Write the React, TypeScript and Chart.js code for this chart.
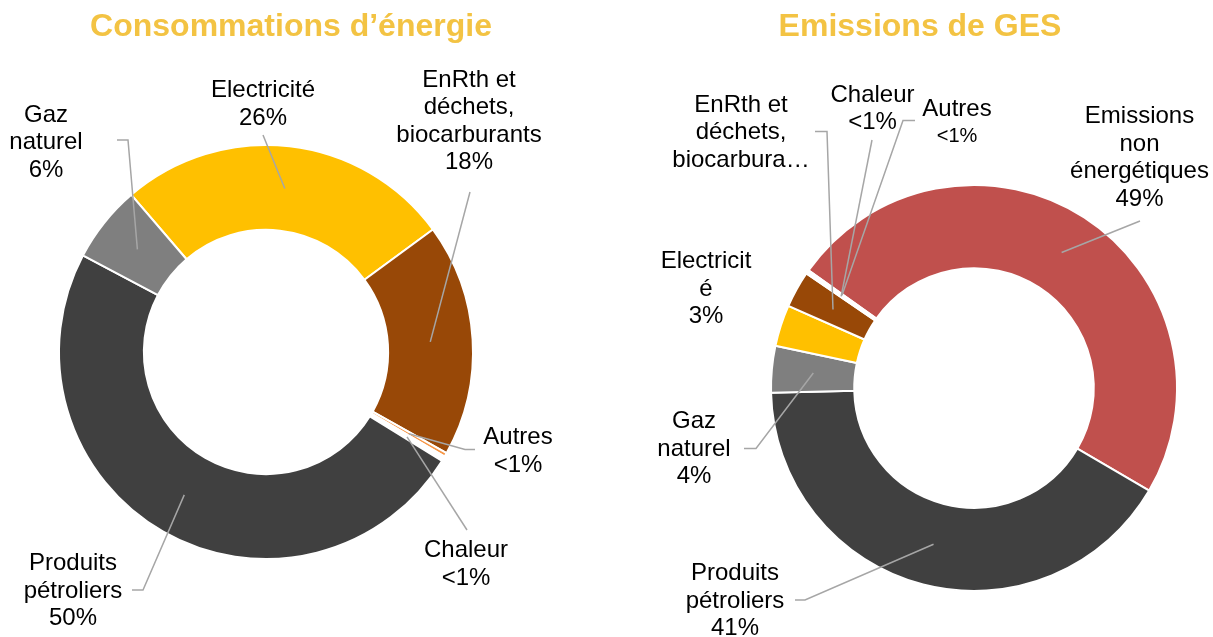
import React, { useEffect, useRef } from "react";
import { Chart, registerables } from "chart.js";

Chart.register(...registerables);

// ---------- Data ----------
const energyTitle = "Consommations d’énergie";
const energyCategories = [
  "Electricité",
  "EnRth et déchets, biocarburants",
  "Autres",
  "Chaleur",
  "Produits pétroliers",
  "Gaz naturel",
];
const energyValues = [26.2, 18.2, 0.3, 0.4, 48.9, 6.0];
const energyPercentLabels = ["26%", "18%", "<1%", "<1%", "50%", "6%"];
const energyNameLines = [
  ["Electricité"],
  ["EnRth et", "déchets,", "biocarburants"],
  ["Autres"],
  ["Chaleur"],
  ["Produits", "pétroliers"],
  ["Gaz", "naturel"],
];

const gesTitle = "Emissions de GES";
const gesCategories = [
  "Emissions non énergétiques",
  "Produits pétroliers",
  "Gaz naturel",
  "Electricité",
  "EnRth et déchets, biocarburants",
  "Chaleur",
  "Autres",
];
const gesValues = [48.6, 41.2, 3.7, 3.3, 2.9, 0.15, 0.15];
const gesPercentLabels = ["49%", "41%", "4%", "3%", "", "<1%", "<1%"];
const gesNameLines = [
  ["Emissions", "non", "énergétiques"],
  ["Produits", "pétroliers"],
  ["Gaz", "naturel"],
  ["Electricit", "é"],
  ["EnRth et", "déchets,", "biocarbura…"],
  ["Chaleur"],
  ["Autres"],
];

// ---------- Styles ----------
const energyColors = ["#FFC000", "#984807", "#F79646", "#FFFFFF", "#404040", "#7F7F7F"];
const gesColors = ["#C0504D", "#404040", "#7F7F7F", "#FFC000", "#984807", "#FFFFFF", "#F79646"];

type Pt = { dx: number; dy: number };
type LabelLayout = {
  text: Pt; // center x / first baseline, relative to donut center
  end?: Pt; // text side end of the leader line
  elbow?: Pt;
  pctSize?: number;
};

const energyLayout: LabelLayout[] = [
  { text: { dx: -3, dy: -255 }, end: { dx: -3, dy: -217 } },
  { text: { dx: 203, dy: -265.5 }, end: { dx: 204, dy: -160 } },
  { text: { dx: 252, dy: 92 }, end: { dx: 209, dy: 97.5 }, elbow: { dx: 199, dy: 97.5 } },
  { text: { dx: 200, dy: 205 }, end: { dx: 201, dy: 178 } },
  { text: { dx: -193, dy: 218 }, end: { dx: -134, dy: 238 }, elbow: { dx: -123, dy: 238 } },
  { text: { dx: -220, dy: -230.5 }, end: { dx: -149, dy: -212 }, elbow: { dx: -138, dy: -212 } },
];

const gesLayout: LabelLayout[] = [
  { text: { dx: 165.5, dy: -265 }, end: { dx: 166, dy: -167 } },
  { text: { dx: -239, dy: 192 }, end: { dx: -179, dy: 212 }, elbow: { dx: -169, dy: 212 } },
  { text: { dx: -280, dy: 40 }, end: { dx: -230, dy: 60.5 }, elbow: { dx: -218, dy: 60.5 } },
  { text: { dx: -268, dy: -120 } },
  { text: { dx: -233, dy: -276.5 }, end: { dx: -159, dy: -256.5 }, elbow: { dx: -147, dy: -256.5 } },
  { text: { dx: -101.5, dy: -286.5 }, end: { dx: -102, dy: -248 } },
  { text: { dx: -17, dy: -272 }, end: { dx: -59, dy: -267.5 }, elbow: { dx: -71, dy: -267.5 }, pctSize: 20 },
];

const FONT = '"Liberation Sans", Arial, sans-serif';
const TITLE_COLOR = "#F3C343";
const LEADER_COLOR = "#A6A6A6";
const LINE_H = 27.5;

type ChartSpec = {
  title: string;
  titleX: number;
  titleY: number;
  categories: string[];
  values: number[];
  colors: string[];
  nameLines: string[][];
  pct: string[];
  layout: LabelLayout[];
  rotation: number;
  radius: number;
  cutout: string;
  padding: { left: number; right: number; top: number; bottom: number };
};

function makeLabelPlugin(spec: ChartSpec) {
  return {
    id: "externalLabels",
    afterDraw(chart: any) {
      const ctx: CanvasRenderingContext2D = chart.ctx;
      ctx.save();
      // title
      ctx.font = `bold 32px ${FONT}`;
      ctx.fillStyle = TITLE_COLOR;
      ctx.textAlign = "center";
      ctx.textBaseline = "alphabetic";
      ctx.fillText(spec.title, spec.titleX, spec.titleY);

      const meta = chart.getDatasetMeta(0);
      meta.data.forEach((arc: any, i: number) => {
        const p = arc.getProps(["x", "y", "startAngle", "endAngle", "innerRadius", "outerRadius"], true);
        const lay = spec.layout[i];
        if (!lay) return;
        const cx = p.x;
        const cy = p.y;
        const mid = (p.startAngle + p.endAngle) / 2;
        const rr = (p.innerRadius + p.outerRadius) / 2;
        const sx = cx + Math.cos(mid) * rr;
        const sy = cy + Math.sin(mid) * rr;
        if (lay.end) {
          ctx.beginPath();
          ctx.strokeStyle = LEADER_COLOR;
          ctx.lineWidth = 1.5;
          ctx.moveTo(sx, sy);
          if (lay.elbow) ctx.lineTo(cx + lay.elbow.dx, cy + lay.elbow.dy);
          ctx.lineTo(cx + lay.end.dx, cy + lay.end.dy);
          ctx.stroke();
        }
        const lines = [...spec.nameLines[i]];
        const pctText = spec.pct[i];
        const tx = cx + lay.text.dx;
        let ty = cy + lay.text.dy;
        ctx.fillStyle = "#000000";
        ctx.textAlign = "center";
        ctx.font = `24px ${FONT}`;
        lines.forEach((ln) => {
          ctx.fillText(ln, tx, ty);
          ty += LINE_H;
        });
        if (pctText) {
          if (lay.pctSize) {
            ctx.font = `${lay.pctSize}px ${FONT}`;
            ty -= 2;
          }
          ctx.fillText(pctText, tx, ty);
        }
      });
      ctx.restore();
    },
  };
}

const W = 1213;
const H = 637;

const energySpec: ChartSpec = {
  title: energyTitle,
  titleX: 291,
  titleY: 36,
  categories: energyCategories,
  values: energyValues,
  colors: energyColors,
  nameLines: energyNameLines,
  pct: energyPercentLabels,
  layout: energyLayout,
  rotation: -40.6,
  radius: 207,
  cutout: "59%",
  padding: { left: 0, right: W - 532, top: 67, bottom: 0 },
};

const gesSpec: ChartSpec = {
  title: gesTitle,
  titleX: 920,
  titleY: 36,
  categories: gesCategories,
  values: gesValues,
  colors: gesColors,
  nameLines: gesNameLines,
  pct: gesPercentLabels,
  layout: gesLayout,
  rotation: -54.6,
  radius: 203,
  cutout: "59%",
  padding: { left: 2 * 974 - W, right: 0, top: 139, bottom: 0 },
};

function DonutCanvas({ spec }: { spec: ChartSpec }) {
  const ref = useRef<HTMLCanvasElement | null>(null);
  useEffect(() => {
    if (!ref.current) return;
    const chart = new Chart(ref.current, {
      type: "doughnut",
      data: {
        labels: spec.categories,
        datasets: [
          {
            data: spec.values,
            backgroundColor: spec.colors,
            borderColor: "#FFFFFF",
            borderWidth: 2,
            clip: false,
          } as any,
        ],
      },
      options: {
        responsive: false,
        animation: false,
        events: [],
        rotation: spec.rotation,
        cutout: spec.cutout,
        radius: spec.radius,
        layout: { padding: spec.padding },
        plugins: {
          legend: { display: false },
          tooltip: { enabled: false },
          title: { display: false },
        },
      } as any,
      plugins: [makeLabelPlugin(spec)],
    });
    return () => chart.destroy();
  }, [spec]);
  return (
    <canvas
      ref={ref}
      width={W}
      height={H}
      style={{ position: "absolute", left: 0, top: 0, width: W, height: H }}
    />
  );
}

export default function App() {
  return (
    <div
      style={{
        position: "fixed",
        left: 0,
        top: 0,
        width: W,
        height: H,
        background: "#FFFFFF",
        overflow: "hidden",
      }}
    >
      <DonutCanvas spec={energySpec} />
      <DonutCanvas spec={gesSpec} />
    </div>
  );
}
